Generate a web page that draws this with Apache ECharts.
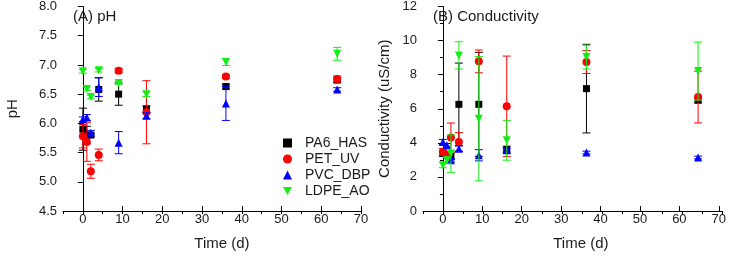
<!DOCTYPE html>
<html>
<head>
<meta charset="utf-8">
<script src="https://cdn.jsdelivr.net/npm/echarts@6.0.0/dist/echarts.min.js"></script>
<style>
	html, body { margin: 0; padding: 0; background: #fff; }
	#chartDom { width: 729px; height: 256px; }
</style>
</head>
<body>
<div id="chartDom"></div>
<script>
// sampling days
var days = [0, 1, 2, 4, 9, 16, 36, 64];
var seriesNames = ['PA6_HAS', 'PET_UV', 'PVC_DBP', 'LDPE_AO'];

// (A) pH, mean and error
var phPA6 = [5.90, 5.80, 5.80, 6.58, 6.50, 6.24, 6.63, 6.74];
var phPA6Err = [0.36, 0.15, 0.03, 0.20, 0.19, 0.06, 0.04, 0.04];
var phPET = [5.78, 5.68, 5.18, 5.46, 6.90, 6.19, 6.80, 6.76];
var phPETErr = [0.20, 0.33, 0.12, 0.10, 0.04, 0.54, 0.03, 0.05];
var phPVC = [6.07, 6.10, 5.84, 6.62, 5.67, 6.13, 6.34, 6.58];
var phPVCErr = [0.04, 0.05, 0.04, 0.16, 0.19, 0.05, 0.29, 0.03];
var phLDPE = [6.89, 6.59, 6.45, 6.91, 6.69, 6.50, 7.05, 7.19];
var phLDPEErr = [0.03, 0.03, 0.03, 0.03, 0.03, 0.04, 0.06, 0.11];

// (B) conductivity (uS/cm), mean and error
var cdPA6 = [3.37, 3.28, 3.20, 6.26, 6.26, 3.60, 7.18, 6.50];
var cdPA6Err = [0.15, 0.15, 0.20, 2.42, 3.05, 0.20, 2.60, 0.15];
var cdPET = [3.47, 3.30, 4.31, 4.05, 8.78, 6.14, 8.74, 6.69];
var cdPETErr = [0.20, 0.20, 0.85, 0.55, 0.67, 2.95, 0.67, 1.52];
var cdPVC = [4.05, 3.86, 2.98, 3.66, 3.27, 3.57, 3.43, 3.14];
var cdPVCErr = [0.15, 0.10, 0.10, 0.15, 0.33, 0.10, 0.08, 0.08];
var cdLDPE = [2.69, 2.98, 3.37, 9.13, 5.42, 4.15, 9.03, 8.21];
var cdLDPEErr = [0.15, 0.20, 1.10, 0.80, 3.65, 1.17, 0.70, 1.70];

var colors = ['#000000', '#ff0000', '#0000ff', '#11ee11'];
var symbols = ['rect', 'circle', 'triangle', 'path://M0,0 L10,0 L5,9 Z'];
var symbolSizes = [7, 8, 8, 8];

chartInit();

function buildData(vals, errs) {
	var out = [];
	for (var i = 0; i < days.length; i++) {
		out.push([days[i], vals[i], errs[i]]);
	}
	return out;
}

function errorBar(params, api) {
	var x = api.value(0);
	var y = api.value(1);
	var e = api.value(2);
	var top = api.coord([x, y + e]);
	var bot = api.coord([x, y - e]);
	var c = api.visual('color');
	var w = 4;
	var st = { stroke: c, lineWidth: 1 };
	return {
		type: 'group',
		children: [
			{ type: 'line', shape: { x1: top[0], y1: top[1], x2: bot[0], y2: bot[1] }, style: st },
			{ type: 'line', shape: { x1: top[0] - w, y1: top[1], x2: top[0] + w, y2: top[1] }, style: st },
			{ type: 'line', shape: { x1: bot[0] - w, y1: bot[1], x2: bot[0] + w, y2: bot[1] }, style: st }
		]
	};
}

function chartInit() {
	var myChart = echarts.init(document.getElementById('chartDom'));

	var font = 'Liberation Sans, Arial, sans-serif';
	var txt = '#1a1a1a';
	var gA = { left: 63, top: 6, width: 298, height: 205 };
	var gB = { left: 423, top: 6, width: 299, height: 205 };

	var panels = [
		[phPA6, phPA6Err, phPET, phPETErr, phPVC, phPVCErr, phLDPE, phLDPEErr],
		[cdPA6, cdPA6Err, cdPET, cdPETErr, cdPVC, cdPVCErr, cdLDPE, cdLDPEErr]
	];

	var series = [];
	for (var p = 0; p < 2; p++) {
		for (var s = 0; s < 4; s++) {
			var d = buildData(panels[p][s * 2], panels[p][s * 2 + 1]);
			series.push({
				name: seriesNames[s] + '_err' + p,
				type: 'custom',
				xAxisIndex: p,
				yAxisIndex: p,
				renderItem: errorBar,
				itemStyle: { color: colors[s] },
				data: d,
				z: 2 + s * 2,
				silent: true
			});
			series.push({
				name: seriesNames[s],
				type: 'scatter',
				xAxisIndex: p,
				yAxisIndex: p,
				symbol: symbols[s],
				symbolSize: symbolSizes[s],
				itemStyle: { color: colors[s], opacity: 1 },
				data: d,
				z: 3 + s * 2
			});
		}
	}

	function majorX(idx) {
		return {
			gridIndex: idx,
			type: 'value',
			min: 0,
			max: 70,
			interval: 10,
			axisLine: { show: false },
			axisTick: { show: true, length: 5, lineStyle: { color: '#000' } },
			axisLabel: { color: txt, fontSize: 13, fontFamily: font, margin: 7 },
			splitLine: { show: false },
			name: 'Time (d)',
			nameLocation: 'middle',
			nameGap: 30,
			nameTextStyle: { color: txt, fontSize: 15, fontFamily: font }
		};
	}

	function minorX(idx) {
		return {
			gridIndex: idx,
			type: 'value',
			min: -5,
			max: 70,
			interval: 5,
			axisLine: { lineStyle: { color: '#000', width: 1 } },
			axisTick: { show: true, length: 3, lineStyle: { color: '#000' } },
			axisLabel: { show: false },
			splitLine: { show: false }
		};
	}

	// grid that starts at x = 0 so the labelled axis can tick from 0
	function shifted(g) {
		var l = g.left + g.width * 5 / 75;
		return { left: l, top: g.top, width: g.width * 70 / 75, height: g.height };
	}

	var option = {
		animation: false,
		textStyle: { fontFamily: font },
		title: [
			{ text: '(A) pH', left: 68, top: 4, textStyle: { color: txt, fontSize: 15, fontWeight: 'normal', fontFamily: font } },
			{ text: '(B) Conductivity', left: 428, top: 4, textStyle: { color: txt, fontSize: 15, fontWeight: 'normal', fontFamily: font } }
		],
		legend: {
			orient: 'vertical',
			left: 278,
			top: 131,
			itemWidth: 9,
			itemHeight: 9,
			itemGap: 2,
			textStyle: { color: txt, fontSize: 14, fontFamily: font, padding: [0, 0, 0, 8] },
			data: [
				{ name: 'PA6_HAS', icon: 'rect' },
				{ name: 'PET_UV', icon: 'circle' },
				{ name: 'PVC_DBP', icon: 'triangle' },
				{ name: 'LDPE_AO', icon: 'path://M0,0 L10,0 L5,9 Z' }
			]
		},
		grid: [gA, gB, shifted(gA), shifted(gB)],
		xAxis: [minorX(0), minorX(1), majorX(2), majorX(3)],
		yAxis: [{
				gridIndex: 0,
				type: 'value',
				min: 4.5,
				max: 8,
				interval: 0.5,
				axisLine: { show: true, lineStyle: { color: '#000' } },
				axisTick: { show: true, length: 5, lineStyle: { color: '#000' } },
				axisLabel: {
					color: txt, fontSize: 13, fontFamily: font, margin: 6,
					formatter: function(v) { return v.toFixed(1); }
				},
				splitLine: { show: false },
				name: 'pH',
				nameLocation: 'middle',
				nameGap: 43,
				nameTextStyle: { color: txt, fontSize: 15, fontFamily: font }
			},
			{
				gridIndex: 1,
				type: 'value',
				min: 0,
				max: 12,
				interval: 2,
				axisLine: { show: true, lineStyle: { color: '#000' } },
				axisTick: { show: true, length: 5, lineStyle: { color: '#000' } },
				minorTick: { show: true, splitNumber: 2, length: 3, lineStyle: { color: '#000' } },
				axisLabel: { color: txt, fontSize: 13, fontFamily: font, margin: 6 },
				splitLine: { show: false },
				name: 'Conductivity (uS/cm)',
				nameLocation: 'middle',
				nameGap: 31,
				nameTextStyle: { color: txt, fontSize: 15, fontFamily: font }
			},
			{ gridIndex: 2, type: 'value', show: false },
			{ gridIndex: 3, type: 'value', show: false }
		],
		series: series
	};
	myChart.setOption(option, true);
}
</script>
</body>
</html>
